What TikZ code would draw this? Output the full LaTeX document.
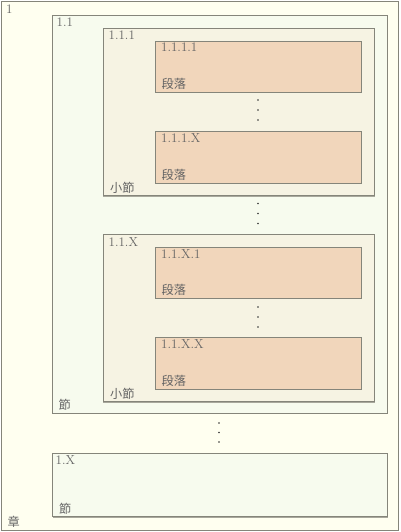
\documentclass[tikz,border=0pt]{standalone}
\usepackage{fontspec}
\newfontfamily\cjk{Noto Sans CJK JP}
\definecolor{bordercol}{HTML}{85857A}
\definecolor{shadowcol}{HTML}{A8A89C}
\definecolor{chfill}{HTML}{FFFFF0}
\definecolor{secfill}{HTML}{F7FBEE}
\definecolor{subfill}{HTML}{F6F3E3}
\definecolor{parfill}{HTML}{F1D6BB}
\definecolor{txtcol}{HTML}{646464}
\begin{document}
\begin{tikzpicture}[x=1pt,y=-1pt,
  box/.style={draw=bordercol, line width=0.9pt, inner sep=0pt, outer sep=0pt, anchor=north west,
    preaction={draw=shadowcol, line width=0.9pt, transform canvas={xshift=0.8pt,yshift=-0.8pt}}},
  chbox/.style={box, fill=chfill},
  secbox/.style={box, fill=secfill},
  subbox/.style={box, fill=subfill},
  parbox/.style={box, fill=parfill},
  toplbl/.style={anchor=base west, inner sep=0pt, text=txtcol, font=\fontsize{13}{15}\selectfont},
  botlbl/.style={anchor=base west, inner sep=0pt, text=txtcol, font=\fontsize{12.2}{14}\selectfont\cjk},
  dotmark/.style={circle, fill=black!80, inner sep=0pt, minimum size=1.6pt}]
\useasboundingbox (0,0) rectangle (400,532);
% chapter
\node[chbox, minimum width=397pt, minimum height=529pt] (ch) at (1,1) {};
% section 1.1
\node[secbox, minimum width=335pt, minimum height=398pt] (s1) at (52,15) {};
% subsection 1.1.1
\node[subbox, minimum width=271pt, minimum height=167.5pt] (ss1) at (103,28) {};
\node[parbox, minimum width=206pt, minimum height=51pt] (p111) at (155,41) {};
\node[parbox, minimum width=206pt, minimum height=52pt] (p11X) at (155,131) {};
% subsection 1.1.X
\node[subbox, minimum width=271pt, minimum height=167.5pt] (ss2) at (103,234) {};
\node[parbox, minimum width=206pt, minimum height=51pt] (p1X1) at (155,247) {};
\node[parbox, minimum width=206pt, minimum height=52pt] (p1XX) at (155,337) {};
% section 1.X
\node[secbox, minimum width=334.5pt, minimum height=63.5pt] (s2) at (52.5,453) {};
% top labels
\node[toplbl] (lch) at ([xshift=5pt,yshift=-12.3pt]ch.north west) {1};
\node[toplbl] (ls1) at ([xshift=4.5pt,yshift=-12pt]s1.north west) {1.1};
\node[toplbl] (lss1) at ([xshift=5.5pt,yshift=-12pt]ss1.north west) {1.1.1};
\node[toplbl] (lp111) at ([xshift=6pt,yshift=-11pt]p111.north west) {1.1.1.1};
\node[toplbl] (lp11X) at ([xshift=6pt,yshift=-11pt]p11X.north west) {1.1.1.X};
\node[toplbl] (lss2) at ([xshift=5.5pt,yshift=-12pt]ss2.north west) {1.1.X};
\node[toplbl] (lp1X1) at ([xshift=6pt,yshift=-11pt]p1X1.north west) {1.1.X.1};
\node[toplbl] (lp1XX) at ([xshift=6pt,yshift=-11pt]p1XX.north west) {1.1.X.X};
\node[toplbl] (ls2) at ([xshift=3pt,yshift=-11.5pt]s2.north west) {1.X};
% bottom labels
\node[botlbl] (bch) at ([xshift=6.5pt,yshift=3.5pt]ch.south west) {章};
\node[botlbl] (bs1) at ([xshift=6.5pt,yshift=3.5pt]s1.south west) {節};
\node[botlbl] (bss1) at ([xshift=7pt,yshift=3.5pt]ss1.south west) {小節};
\node[botlbl] (bp111) at ([xshift=6.5pt,yshift=3.5pt]p111.south west) {段落};
\node[botlbl] (bp11X) at ([xshift=6.5pt,yshift=3.5pt]p11X.south west) {段落};
\node[botlbl] (bss2) at ([xshift=7pt,yshift=3.5pt]ss2.south west) {小節};
\node[botlbl] (bp1X1) at ([xshift=6.5pt,yshift=3.5pt]p1X1.south west) {段落};
\node[botlbl] (bp1XX) at ([xshift=6.5pt,yshift=3.5pt]p1XX.south west) {段落};
\node[botlbl] (bs2) at ([xshift=6.5pt,yshift=3.5pt]s2.south west) {節};
% ellipsis dots
\foreach \n/\x/\y in {a/258/100, b/258/110, c/258/120,
                      d/258/203.5, e/258/213.5, f/258/223.5,
                      g/258/307, h/258/317, i/258/327,
                      j/219/423, k/219/432.5, l/219/442}
  \node[dotmark] (dot\n) at (\x,\y) {};
\end{tikzpicture}
\end{document}
